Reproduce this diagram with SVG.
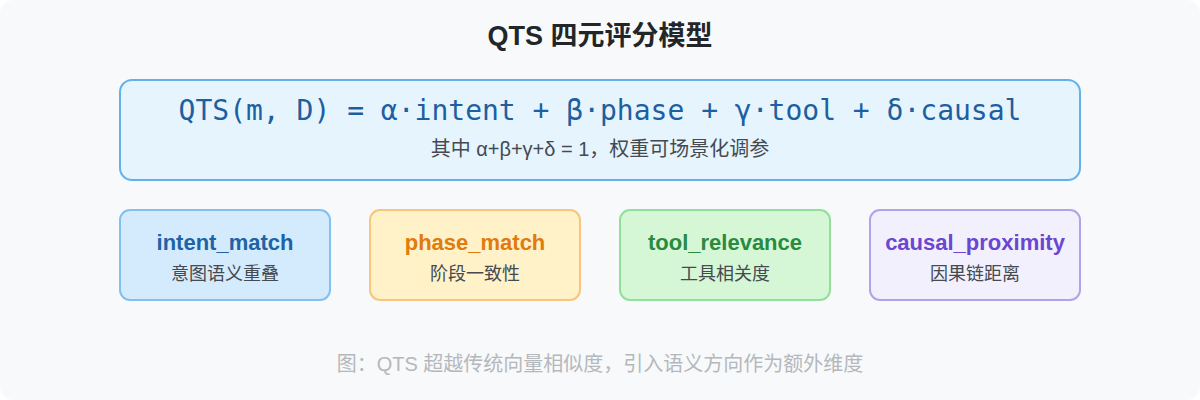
<svg xmlns="http://www.w3.org/2000/svg" width="1200" height="400" viewBox="0 0 1200 400">
  <style>
    .sans { font-family: "Liberation Sans", "Noto Sans CJK SC", sans-serif; }
    .title { font-size: 27px; font-weight: bold; fill: #222629; }
    .formula { font-family: "DejaVu Sans Mono", "Liberation Mono", monospace; font-size: 28px; fill: #1d5f9f; }
    .sub { font-size: 20px; fill: #444a50; }
    .ctitle { font-size: 22px; font-weight: bold; }
    .csub { font-size: 18px; fill: #444a50; }
    .caption { font-size: 20px; fill: #b4b8bc; }
    .card { stroke-width: 2; }
  </style>
  <rect x="0" y="0" width="1200" height="400" fill="#ffffff"/>
  <rect x="0" y="0" width="1200" height="400" rx="14" fill="#f8f9fa"/>

  <g id="title">
    <text class="sans title" x="600" y="45" text-anchor="middle">QTS 四元评分模型</text>
  </g>

  <g id="formula-box">
    <rect x="120" y="80" width="960" height="100" rx="12" fill="#e6f4fe" stroke="#63b1ea" stroke-width="2"/>
    <text class="formula" x="600" y="120" text-anchor="middle">QTS(m, D) = α·intent + β·phase + γ·tool + δ·causal</text>
    <text class="sans sub" x="600" y="156" text-anchor="middle">其中 α+β+γ+δ = 1，权重可场景化调参</text>
  </g>

  <g id="intent_match">
    <rect class="card" x="120" y="210" width="210" height="90" rx="10" fill="#d4ebfd" stroke="#82c0f0"/>
    <text class="sans ctitle" x="225" y="250" text-anchor="middle" fill="#1d63a6">intent_match</text>
    <text class="sans csub" x="225" y="280" text-anchor="middle">意图语义重叠</text>
  </g>

  <g id="phase_match">
    <rect class="card" x="370" y="210" width="210" height="90" rx="10" fill="#fff2c8" stroke="#f8c57c"/>
    <text class="sans ctitle" x="475" y="250" text-anchor="middle" fill="#e07b0c">phase_match</text>
    <text class="sans csub" x="475" y="280" text-anchor="middle">阶段一致性</text>
  </g>

  <g id="tool_relevance">
    <rect class="card" x="620" y="210" width="210" height="90" rx="10" fill="#d5f7d6" stroke="#90e09c"/>
    <text class="sans ctitle" x="725" y="250" text-anchor="middle" fill="#2a8a40">tool_relevance</text>
    <text class="sans csub" x="725" y="280" text-anchor="middle">工具相关度</text>
  </g>

  <g id="causal_proximity">
    <rect class="card" x="870" y="210" width="210" height="90" rx="10" fill="#f3f0fd" stroke="#b2a2ea"/>
    <text class="sans ctitle" x="975" y="250" text-anchor="middle" fill="#6a46d2">causal_proximity</text>
    <text class="sans csub" x="975" y="280" text-anchor="middle">因果链距离</text>
  </g>

  <g id="connectors"></g>

  <g id="caption">
    <text class="sans caption" x="600" y="371" text-anchor="middle">图：QTS 超越传统向量相似度，引入语义方向作为额外维度</text>
  </g>
</svg>
